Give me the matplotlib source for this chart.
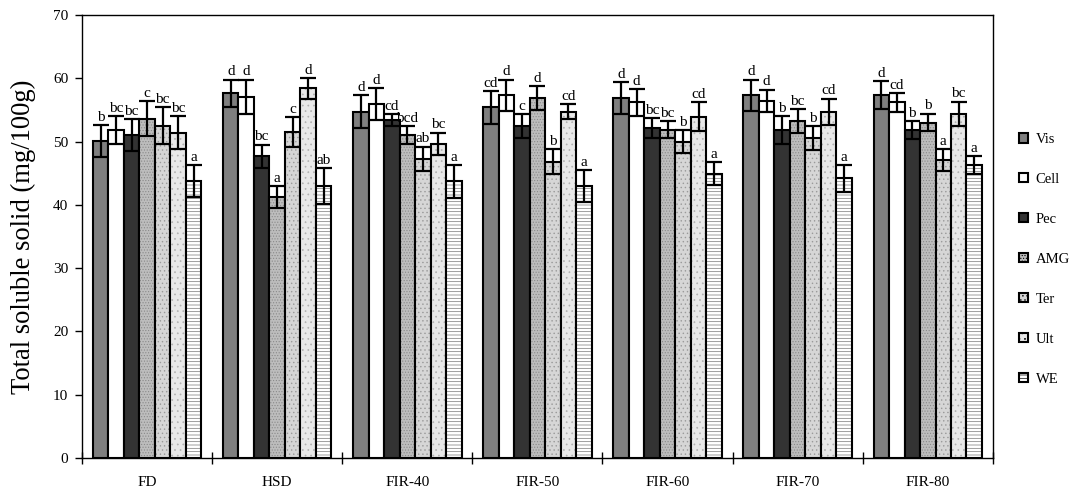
import numpy as np
import matplotlib
matplotlib.use("Agg")
import matplotlib.pyplot as plt
from matplotlib.patches import Patch

plt.rcParams['font.family'] = ['Liberation Serif', 'DejaVu Serif']
plt.rcParams['hatch.linewidth'] = 0.5

groups = ["FD", "HSD", "FIR-40", "FIR-50", "FIR-60", "FIR-70", "FIR-80"]
series = ["Vis", "Cell", "Pec", "AMG", "Ter", "Ult", "WE"]

vis  = [50.1, 57.6, 54.7, 55.4, 56.9, 57.3, 57.3]
cell = [51.8, 57.1, 55.9, 57.3, 56.2, 56.4, 56.2]
pec  = [51.0, 47.7, 53.4, 52.4, 52.1, 51.8, 51.8]
amg  = [53.6, 41.2, 51.0, 56.9, 51.9, 53.2, 53.0]
ter  = [52.5, 51.5, 47.3, 46.8, 50.0, 50.5, 47.1]
ult  = [51.4, 58.4, 49.6, 54.7, 53.9, 54.7, 54.4]
we   = [43.8, 43.0, 43.7, 43.0, 44.9, 44.2, 46.3]

vis_err  = [2.5, 2.2, 2.6, 2.6, 2.5, 2.5, 2.2]
cell_err = [2.2, 2.7, 2.5, 2.5, 2.1, 1.8, 1.5]
pec_err  = [2.5, 1.8, 0.9, 1.9, 1.6, 2.2, 1.4]
amg_err  = [2.8, 1.7, 1.4, 1.9, 1.3, 1.9, 1.4]
ter_err  = [2.9, 2.4, 1.9, 2.0, 1.8, 1.9, 1.7]
ult_err  = [2.6, 1.6, 1.8, 1.2, 2.3, 2.1, 1.9]
we_err   = [2.5, 2.8, 2.6, 2.5, 1.8, 2.1, 1.4]

vis_lab  = ["b", "d", "d", "cd", "d", "d", "d"]
cell_lab = ["bc", "d", "d", "d", "d", "d", "cd"]
pec_lab  = ["bc", "bc", "cd", "c", "bc", "b", "b"]
amg_lab  = ["c", "a", "bcd", "d", "bc", "bc", "b"]
ter_lab  = ["bc", "c", "ab", "b", "b", "b", "a"]
ult_lab  = ["bc", "d", "bc", "cd", "cd", "cd", "bc"]
we_lab   = ["a", "ab", "a", "a", "a", "a", "a"]

values = [vis, cell, pec, amg, ter, ult, we]
errors = [vis_err, cell_err, pec_err, amg_err, ter_err, ult_err, we_err]
labels = [vis_lab, cell_lab, pec_lab, amg_lab, ter_lab, ult_lab, we_lab]

colors = ["#7f7f7f", "#ffffff", "#333333", "#bdbdbd", "#d6d6d6", "#e8e8e8", "#ffffff"]
hatches = [None, None, None, "......", "....", "...", "-----"]
hatch_colors = ["black", "black", "black", "#8a8a8a", "#9a9a9a", "#b0b0b0", "#777777"]

fig = plt.figure(figsize=(10.71, 4.93), dpi=100)
ax = fig.add_axes([0.0766, 0.071, 0.8504, 0.8986])

x = np.arange(len(groups))
bw = 0.119
for i, (vals, errs, labs) in enumerate(zip(values, errors, labels)):
    pos = x + (i - 3) * bw
    bars = ax.bar(pos, vals, width=bw, color=colors[i], edgecolor="black",
                  linewidth=1.5, hatch=hatches[i], zorder=2)
    if hatches[i]:
        for b in bars:
            b._hatch_color = matplotlib.colors.to_rgba(hatch_colors[i])
    ax.errorbar(pos, vals, yerr=errs, fmt="none", ecolor="black",
                elinewidth=1.6, capsize=6, capthick=1.6, zorder=3)
    for p, v, e, l in zip(pos, vals, errs, labs):
        ax.text(p, v + e + 0.2, l, ha="center", va="bottom", fontsize=11)

ax.set_xlim(-0.5, len(groups) - 0.5)
ax.set_ylim(0, 70)
ax.set_yticks(np.arange(0, 71, 10))
ax.set_xticks(np.arange(-0.5, len(groups), 1.0))
ax.set_xticklabels([])
ax.set_xticks(x, minor=True)
ax.set_xticklabels(groups, minor=True, fontsize=11)
ax.tick_params(axis="x", which="minor", length=0, pad=13)
ax.tick_params(axis="x", which="major", direction="inout", length=8, width=1)
ax.tick_params(axis="y", direction="out", length=5, width=1, labelsize=11, pad=5)
ax.set_ylabel("Total soluble solid (mg/100g)", fontsize=19.2, labelpad=12)
for s in ax.spines.values():
    s.set_linewidth(1)

handles = [Patch(facecolor=colors[i], edgecolor="black", linewidth=1.5,
                 hatch=hatches[i]) for i in range(len(series))]
fig.legend(handles, series, loc="upper left", bbox_to_anchor=(0.946, 0.742),
           frameon=False, fontsize=10.5, handlelength=0.6, handleheight=0.6,
           handletextpad=0.55, labelspacing=1.85, borderaxespad=0)

fig.savefig("out.png", dpi=100)
